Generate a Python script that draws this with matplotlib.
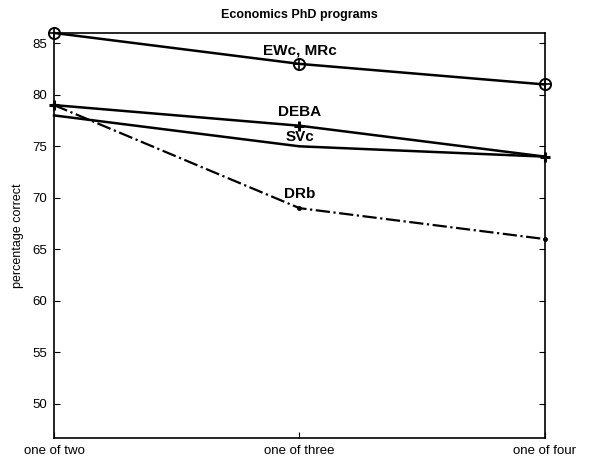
import matplotlib
matplotlib.use('Agg')
from matplotlib import pyplot as plt

# task formats and accuracy of each heuristic
formats = ['one of two', 'one of three', 'one of four']
ewc_mrc = [86, 83, 81]
deba = [79, 77, 74]
svc = [78, 75, 74]
drb = [79, 69, 66]

plt.rcParams['font.family'] = ['Liberation Sans', 'DejaVu Sans']

fig = plt.figure(figsize=(6.04, 4.59), dpi=100)
ax = fig.add_axes([0.0894, 0.0458, 0.8129, 0.8824])

x = [0, 1, 2]
ax.plot(x, ewc_mrc, 'k-', lw=1.8, marker='o', ms=8, mfc='none', mew=1.4, clip_on=False)
ax.plot(x, ewc_mrc, 'k', lw=0, marker='+', ms=8, mew=1.2, clip_on=False)
ax.plot(x, deba, 'k-', lw=1.8, marker='+', ms=7, mew=2.2, clip_on=False)
ax.plot(x, svc, 'k-', lw=1.8, clip_on=False)
ax.plot(x, drb, 'k-.', lw=1.6, marker='.', ms=5, clip_on=False)

# line labels
lab = dict(ha='center', va='center', fontsize=11, fontweight='bold')
ax.text(1.0, 84.25, 'EWc, MRc', **lab)
ax.text(1.0, 78.3, 'DEBA', **lab)
ax.text(1.0, 75.9, 'SVc', **lab)
ax.text(1.0, 70.35, 'DRb', **lab)

ax.set_xlim(0, 2)
ax.set_ylim(46.7, 86)
ax.set_xticks(x)
ax.set_xticklabels(formats)
ax.set_yticks([50, 55, 60, 65, 70, 75, 80, 85])
ax.tick_params(direction='in', right=True, top=False, length=4, labelsize=9.5, pad=5)
ax.set_ylabel('percentage correct', fontsize=9, labelpad=6)
ax.set_title('Economics PhD programs', fontsize=9, fontweight='bold', pad=11)
for s in ax.spines.values():
    s.set_linewidth(1.2)

fig.savefig('out.png', dpi=100)
